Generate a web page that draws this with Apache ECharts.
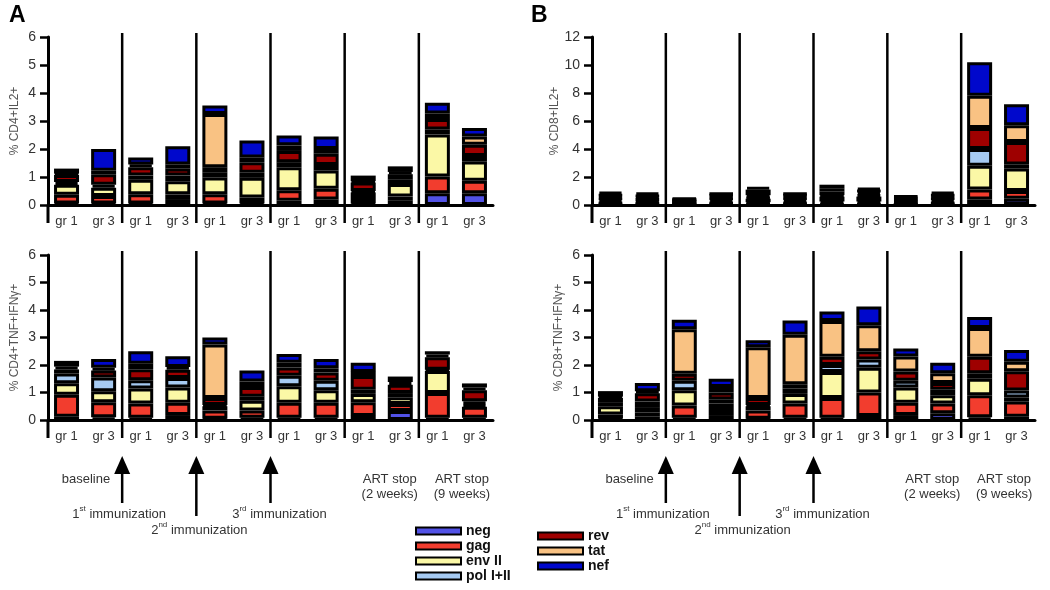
<!DOCTYPE html>
<html>
<head>
<meta charset="utf-8">
<title>CD4 / CD8 responses</title>
<script src="https://cdn.jsdelivr.net/npm/echarts@6/dist/echarts.min.js"></script>
<style>
  html, body { margin: 0; padding: 0; background: #fff; }
  #main { width: 1050px; height: 590px; }
</style>
</head>
<body>
<div id="main"></div>
<script type="text/javascript">
// categories along each panel
var groups = ['gr 1', 'gr 3', 'gr 1', 'gr 3', 'gr 1', 'gr 3', 'gr 1', 'gr 3', 'gr 1', 'gr 3', 'gr 1', 'gr 3'];
var antigens = ['neg', 'gag', 'env II', 'pol I+II', 'rev', 'tat', 'nef'];
var colors = ['#5252e6', '#f23d2e', '#fbf8a6', '#a6caf2', '#9e0000', '#f9c283', '#0008cc'];

// A top: % CD4+IL2+
var cd4il2_neg = [.05, .05, .05, .18, .05, .05, .15, .2, .05, .15, .42, .42];
var cd4il2_gag = [.32, .27, .33, .2, .33, .22, .38, .38, .2, .15, .6, .45];
var cd4il2_env = [.35, .3, .52, .47, .6, .7, .82, .65, .2, .45, 1.5, .68];
var cd4il2_pol = [.1, .1, .15, .2, .17, .18, .18, .2, .05, .15, .18, .2];
var cd4il2_rev = [.25, .38, .3, .25, .2, .38, .4, .4, .3, .2, .37, .4];
var cd4il2_tat = [.05, .12, .1, .15, 1.9, .17, .2, .17, .05, .08, .2, .3];
var cd4il2_nef = [.18, .78, .25, .65, .3, .6, .35, .45, .2, .2, .38, .3];

// A bottom: % CD4+TNF+IFNγ+
var cd4tnf_neg = [.12, .1, .08, .18, .05, .08, .08, .08, .15, .33, .08, .08];
var cd4tnf_gag = [.8, .55, .52, .45, .3, .27, .55, .55, .5, .25, .9, .4];
var cd4tnf_env = [.42, .4, .55, .55, .15, .35, .6, .45, .3, .25, .8, .1];
var cd4tnf_pol = [.35, .5, .3, .35, .05, .15, .38, .35, .15, .15, .05, .1];
var cd4tnf_rev = [.15, .25, .4, .3, .25, .35, .3, .3, .5, .3, .45, .4];
var cd4tnf_tat = [.1, .1, .2, .1, 1.95, .2, .17, .15, .15, .1, .1, .1];
var cd4tnf_nef = [.21, .32, .45, .39, .25, .4, .32, .34, .33, .2, .12, .15];

// B top: % CD8+IL2+
var cd8il2_neg = [.1, .1, .05, .1, .1, .1, .1, .1, .05, .1, .4, .45];
var cd8il2_gag = [.1, .1, .05, .1, .1, .1, .15, .15, .1, .1, .7, .55];
var cd8il2_env = [.2, .15, .1, .2, .25, .2, .35, .35, .1, .2, 1.7, 1.6];
var cd8il2_pol = [.1, .1, .05, .1, .1, .1, .1, .15, .1, .1, 1.2, .3];
var cd8il2_rev = [.15, .15, .1, .15, .15, .15, .25, .2, .1, .15, 1.5, 1.6];
var cd8il2_tat = [.1, .1, .05, .1, .4, .1, .25, .1, .1, .1, 2.3, 1.2];
var cd8il2_nef = [.2, .2, .1, .1, .2, .1, .25, .2, .1, .2, 2.4, 1.5];

// B bottom: % CD8+TNF+IFNγ+
var cd8tnf_neg = [.05, .12, .08, .18, .05, .08, .08, .15, .18, .25, .1, .12];
var cd8tnf_gag = [.15, .15, .45, .22, .3, .52, .72, .85, .45, .35, .8, .55];
var cd8tnf_env = [.3, .2, .55, .2, .15, .35, .95, .9, .55, .3, .6, .15];
var cd8tnf_pol = [.15, .2, .35, .15, .05, .2, .25, .3, .25, .2, .2, .25];
var cd8tnf_rev = [.15, .3, .25, .25, .25, .15, .3, .3, .33, .25, .6, .7];
var cd8tnf_tat = [.05, .08, 1.62, .2, 1.85, 1.8, 1.3, .95, .55, .35, 1.05, .35];
var cd8tnf_nef = [.2, .3, .35, .3, .25, .52, .35, .68, .29, .38, .4, .43];

var panels = [
    { name: '% CD4+IL2+', max: 6, interval: 1,
      data: [cd4il2_neg, cd4il2_gag, cd4il2_env, cd4il2_pol, cd4il2_rev, cd4il2_tat, cd4il2_nef] },
    { name: '% CD4+TNF+IFNγ+', max: 6, interval: 1,
      data: [cd4tnf_neg, cd4tnf_gag, cd4tnf_env, cd4tnf_pol, cd4tnf_rev, cd4tnf_tat, cd4tnf_nef] },
    { name: '% CD8+IL2+', max: 12, interval: 2,
      data: [cd8il2_neg, cd8il2_gag, cd8il2_env, cd8il2_pol, cd8il2_rev, cd8il2_tat, cd8il2_nef] },
    { name: '% CD8+TNF+IFNγ+', max: 6, interval: 1,
      data: [cd8tnf_neg, cd8tnf_gag, cd8tnf_env, cd8tnf_pol, cd8tnf_rev, cd8tnf_tat, cd8tnf_nef] }
];

var grids = [
    { left: 48, top: 37, width: 445, height: 168 },
    { left: 48, top: 255, width: 445, height: 165 },
    { left: 592, top: 37, width: 443, height: 168 },
    { left: 592, top: 255, width: 443, height: 165 }
];

var FONT = '"Liberation Sans", Arial, Helvetica, sans-serif';

var xAxes = [], yAxes = [], series = [];
panels.forEach(function (p, i) {
    xAxes.push({
        type: 'category', gridIndex: i, data: groups,
        axisLine: { lineStyle: { color: '#000', width: 3 } },
        axisTick: { show: false },
        axisLabel: { color: '#333', fontSize: 13, fontFamily: FONT, margin: 10 }
    });
    yAxes.push({
        type: 'value', gridIndex: i, min: 0, max: p.max, interval: p.interval,
        name: p.name, nameLocation: 'middle', nameGap: 27,
        nameTextStyle: { color: '#555', fontSize: 12, fontFamily: FONT },
        axisLine: { show: true, lineStyle: { color: '#000', width: 3 } },
        axisTick: { show: true, length: 8, lineStyle: { color: '#000', width: 2.5 } },
        axisLabel: { color: '#333', fontSize: 14, fontFamily: FONT, margin: 12 },
        splitLine: { show: false }
    });
    antigens.forEach(function (a, k) {
        series.push({
            name: a, type: 'bar', stack: 'p' + i,
            xAxisIndex: i, yAxisIndex: i,
            barWidth: 25,
            itemStyle: { color: colors[k], borderColor: '#000', borderWidth: 3 },
            data: p.data[k]
        });
    });
});

var myChart = echarts.init(document.getElementById('main'), null, { renderer: 'canvas' });

var legendText = { fontWeight: 'bold', fontSize: 14, color: '#111', fontFamily: FONT };
var option = {
    animation: false,
    backgroundColor: '#fff',
    grid: grids,
    xAxis: xAxes,
    yAxis: yAxes,
    legend: [
        { data: ['neg', 'gag', 'env II', 'pol I+II'], orient: 'vertical', left: 415, top: 524, height: 70,
          itemWidth: 45, itemHeight: 7, itemGap: 1, selectedMode: false, icon: 'rect', padding: 0,
          itemStyle: { borderColor: '#000', borderWidth: 2 }, textStyle: legendText },
        { data: ['rev', 'tat', 'nef'], orient: 'vertical', left: 537, top: 529, height: 60,
          itemWidth: 45, itemHeight: 7, itemGap: 1, selectedMode: false, icon: 'rect', padding: 0,
          itemStyle: { borderColor: '#000', borderWidth: 2 }, textStyle: legendText }
    ],
    series: series
};
myChart.setOption(option);

// separators, axis extensions and annotations placed from the axes themselves
var g = [];
var seps = [];
panels.forEach(function (p, i) {
    var gr = grids[i];
    var bottom = gr.top + gr.height;
    var s = [];
    for (var k = 1; k <= 5; k++) {
        var x1 = myChart.convertToPixel({ xAxisIndex: i }, 2 * k - 1);
        var x2 = myChart.convertToPixel({ xAxisIndex: i }, 2 * k);
        var x = (x1 + x2) / 2;
        s.push(x);
        g.push({ type: 'line', shape: { x1: x, y1: gr.top - 4, x2: x, y2: bottom + 18 },
                 style: { stroke: '#000', lineWidth: 2.5 } });
    }
    seps.push(s);
    g.push({ type: 'line', shape: { x1: gr.left, y1: bottom, x2: gr.left, y2: bottom + 18 },
             style: { stroke: '#000', lineWidth: 3 } });
});

function label(x, y, text, align) {
    return { type: 'text', style: { x: x, y: y, text: text, align: align || 'center', verticalAlign: 'middle',
             fill: '#333', font: '13px ' + FONT } };
}
function immun(x, y, num, sup) {
    return { type: 'text', style: { x: x, y: y, align: 'center', verticalAlign: 'middle',
             text: '{n|' + num + '}{s|' + sup + '}{n| immunization}',
             rich: { n: { fill: '#333', fontSize: 13, fontFamily: FONT, verticalAlign: 'bottom', lineHeight: 16 },
                     s: { fill: '#333', fontSize: 8, fontFamily: FONT, verticalAlign: 'top', lineHeight: 16 } } } };
}
function arrow(x, bottom) {
    return [
        { type: 'line', shape: { x1: x, y1: 470, x2: x, y2: bottom }, style: { stroke: '#000', lineWidth: 2.5 } },
        { type: 'polygon', shape: { points: [[x, 456], [x - 8, 474], [x + 8, 474]] }, style: { fill: '#000' } }
    ];
}

[0, 2].forEach(function (i) {
    var s = seps[i];
    var gr = grids[i];
    var right = gr.left + gr.width;
    g = g.concat(arrow(s[0], 503), arrow(s[1], 516), arrow(s[2], 503));
    g.push(label(s[0] - 12, 479, 'baseline', 'right'));
    g.push(immun(s[0] - 3, 513, '1', 'st'));
    g.push(immun(s[1] + 3, 529, '2', 'nd'));
    g.push(immun(s[2] + 9, 513, '3', 'rd'));
    var c5 = (s[3] + s[4]) / 2 + 8;
    var c6 = (s[4] + right) / 2 + 6;
    g.push(label(c5, 479, 'ART stop'));
    g.push(label(c5, 494, '(2 weeks)'));
    g.push(label(c6, 479, 'ART stop'));
    g.push(label(c6, 494, '(9 weeks)'));
});

g.push({ type: 'text', style: { x: 9, y: 4, text: 'A', fill: '#000', font: 'bold 23px ' + FONT } });
g.push({ type: 'text', style: { x: 531, y: 4, text: 'B', fill: '#000', font: 'bold 23px ' + FONT } });

myChart.setOption({ graphic: g });
</script>
</body>
</html>
